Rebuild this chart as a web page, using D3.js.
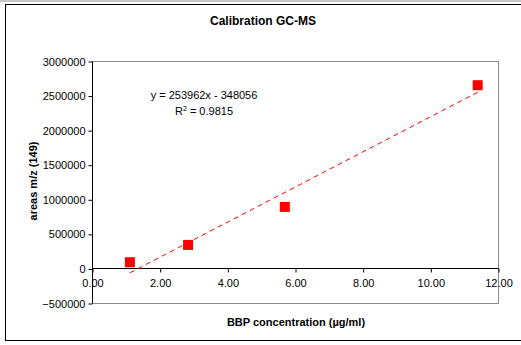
<!DOCTYPE html>
<html>
<head>
<meta charset="utf-8">
<script src="https://cdn.jsdelivr.net/npm/d3@7"></script>
<style>
  body { margin: 0; background: #fff; }
  text { font-family: "Liberation Sans", Arial, sans-serif; }
</style>
</head>
<body>
<div id="chart"></div>
<script>
// data
var concentration = [1.12, 2.84, 5.70, 11.40];
var areas = [90000, 340000, 890000, 2650000];
var slope = 253962;
var intercept = -348056;
var xTicks = [0, 2, 4, 6, 8, 10, 12];
var yTicks = [-500000, 0, 500000, 1000000, 1500000, 2000000, 2500000, 3000000];

var svgWidth = 521;
var svgHeight = 345;

var margin = { top: 61, right: 23, bottom: 42, left: 92 };
var width = svgWidth - margin.left - margin.right;
var height = svgHeight - margin.top - margin.bottom;

var svg = d3.select("#chart")
  .append("svg")
  .attr("width", svgWidth)
  .attr("height", svgHeight);

// outer frame
svg.append("rect")
  .attr("x", 0).attr("y", 0)
  .attr("width", svgWidth).attr("height", 2)
  .attr("fill", "#c8c8c8");
svg.append("rect")
  .attr("x", 5.5).attr("y", 4.5)
  .attr("width", svgWidth)
  .attr("height", 336)
  .attr("fill", "none")
  .attr("stroke", "#000");

var chartGroup = svg.append("g")
  .attr("transform", `translate(${margin.left}, ${margin.top})`);

var xScale = d3.scaleLinear().domain([0, 12]).range([0, width]);
var yScale = d3.scaleLinear().domain([-500000, 3000000]).range([height, 0]);

// plot area border (grey)
chartGroup.append("rect")
  .attr("x", 0.5).attr("y", 0.5)
  .attr("width", width).attr("height", height)
  .attr("fill", "none")
  .attr("stroke", "#8c8c8c");

// y axis
var leftAxis = d3.axisLeft(yScale)
  .tickValues(yTicks)
  .tickSize(4)
  .tickPadding(3)
  .tickFormat(d3.format("d"));
var yAxisG = chartGroup.append("g")
  .attr("transform", "translate(0.5, 0.5)")
  .call(leftAxis);
yAxisG.select(".domain").attr("stroke", "#000").attr("d", `M0,0V${height}`);
yAxisG.selectAll("text").attr("font-size", 11).attr("fill", "#000").attr("font-family", "Liberation Sans, Arial, sans-serif");

// x axis on the zero line
var bottomAxis = d3.axisBottom(xScale)
  .tickValues(xTicks)
  .tickSize(4)
  .tickPadding(7)
  .tickFormat(d3.format(".2f"));
var xAxisG = chartGroup.append("g")
  .attr("transform", `translate(0.5, ${Math.round(yScale(0)) + 0.5})`)
  .call(bottomAxis);
xAxisG.select(".domain").attr("stroke", "#000").attr("d", `M0,0H${width}`);
xAxisG.selectAll("text").attr("font-size", 11).attr("fill", "#000").attr("font-family", "Liberation Sans, Arial, sans-serif");

// trendline
var xMin = d3.min(concentration);
var xMax = d3.max(concentration);
chartGroup.append("line")
  .attr("x1", xScale(xMin))
  .attr("y1", yScale(slope * xMin + intercept))
  .attr("x2", xScale(xMax))
  .attr("y2", yScale(slope * xMax + intercept))
  .attr("stroke", "#ff0000")
  .attr("stroke-width", 1)
  .attr("stroke-dasharray", "5,4");

// points
chartGroup.selectAll(".pt")
  .data(concentration)
  .enter()
  .append("rect")
  .attr("class", "pt")
  .attr("x", (d, i) => xScale(d) - 5)
  .attr("y", (d, i) => yScale(areas[i]) - 5)
  .attr("width", 10)
  .attr("height", 10)
  .attr("fill", "#ff0000");

// equation label
var eq = svg.append("text")
  .attr("x", 204)
  .attr("y", 99)
  .attr("text-anchor", "middle")
  .attr("font-size", 11)
  .text(`y = ${slope}x - ${-intercept}`);

var r2 = svg.append("text")
  .attr("x", 204)
  .attr("y", 115)
  .attr("text-anchor", "middle")
  .attr("font-size", 11);
r2.append("tspan").text("R");
r2.append("tspan").attr("font-size", 7).attr("dy", -4).text("2");
r2.append("tspan").attr("dy", 4).text(" = 0.9815");

// title
svg.append("text")
  .attr("x", 263)
  .attr("y", 25)
  .attr("text-anchor", "middle")
  .attr("font-size", 12)
  .attr("font-weight", "bold")
  .text("Calibration GC-MS");

// axis titles
svg.append("text")
  .attr("x", 296)
  .attr("y", 326)
  .attr("text-anchor", "middle")
  .attr("font-size", 11)
  .attr("font-weight", "bold")
  .text("BBP concentration (µg/ml)");

svg.append("text")
  .attr("transform", "translate(37, 181) rotate(-90)")
  .attr("text-anchor", "middle")
  .attr("font-size", 11)
  .attr("font-weight", "bold")
  .text("areas m/z (149)");
</script>
</body>
</html>
